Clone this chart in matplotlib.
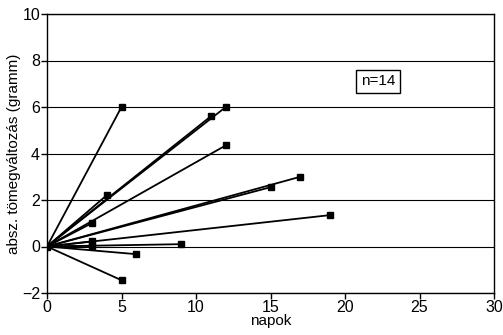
import matplotlib
matplotlib.use("Agg")
import matplotlib.pyplot as plt

plt.rcParams['font.family'] = ['Liberation Sans', 'DejaVu Sans']

# endpoint of each animal's line (start is always 0,0)
napok = [5, 11, 12, 12, 4, 3, 15, 17, 19, 3, 3, 9, 6, 5]
valtozas = [6.0, 5.6, 6.0, 4.35, 2.2, 1.0, 2.55, 3.0, 1.35, 0.22, 0.03, 0.1, -0.33, -1.45]

fig = plt.figure(figsize=(5.03, 3.35), dpi=100)
ax = fig.add_axes([47 / 503, 1 - 293 / 335, (494 - 47) / 503, (293 - 14) / 335])

for x, y in zip(napok, valtozas):
    ax.plot([0, x], [0, y], color='black', lw=1.3,
            marker='s', markersize=5, markevery=[1])
ax.plot([0], [0], marker='s', markersize=5, color='black')

ax.set_xlim(0, 30)
ax.set_ylim(-2, 10)
ax.set_xticks(range(0, 31, 5))
ax.set_yticks(range(-2, 11, 2))
ax.yaxis.grid(True, color='black', lw=0.8)
ax.set_axisbelow(True)
ax.tick_params(direction='out', length=4, width=1, labelsize=11.5, pad=1, colors='black')
for s in ax.spines.values():
    s.set_linewidth(1)

ax.set_xlabel('napok', fontsize=11, labelpad=-1)
ax.set_ylabel('absz. tömegváltozás (gramm)', fontsize=11, labelpad=1)

ax.text(22.2, 7.1, 'n=14', fontsize=11, ha='center', va='center',
        bbox=dict(boxstyle='square,pad=0.3', facecolor='white', edgecolor='black', lw=1))

fig.savefig('out.png', dpi=100)
